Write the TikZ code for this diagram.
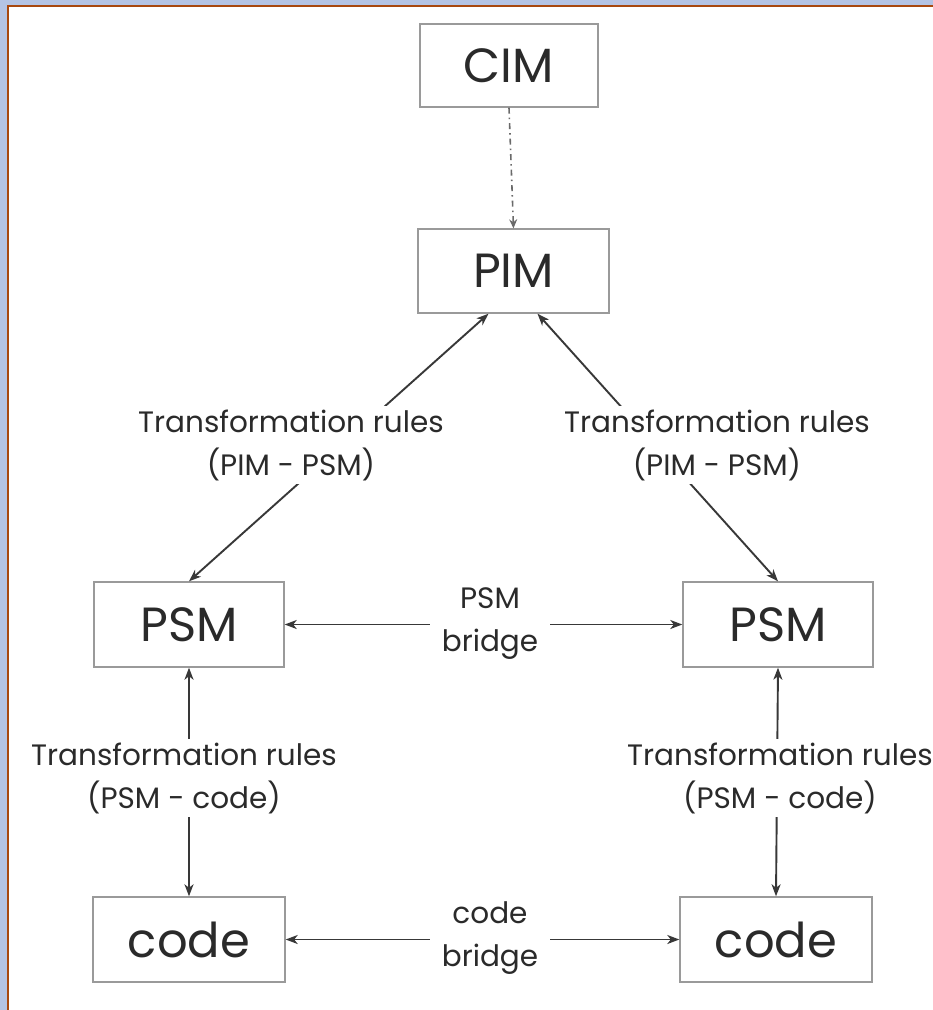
\documentclass[tikz,border=0pt]{standalone}
\usepackage{fontspec}
\setmainfont{Poppins}
\usetikzlibrary{arrows.meta}
\definecolor{bgblue}{HTML}{B4C4E4}
\definecolor{framebrown}{HTML}{A8480E}
\definecolor{boxgray}{HTML}{9A9A9A}
\definecolor{linegray}{HTML}{383838}
\definecolor{txt}{HTML}{2A2A2A}
\begin{document}
\begin{tikzpicture}[x=1pt,y=-1pt,
  box/.style={draw=boxgray,line width=1.4pt,inner sep=0pt,text=txt,
    minimum width=190pt,minimum height=85pt,font=\fontsize{48}{48}\selectfont},
  lbl/.style={fill=white,inner sep=3pt,text=txt,align=center,
    font=\fontsize{29.5}{43}\selectfont},
  bridgelbl/.style={lbl,inner xsep=12pt},
  conn/.style={draw=linegray,line width=1.9pt,
    {Stealth[length=12pt,width=9pt,inset=3.5pt]}-{Stealth[length=12pt,width=9pt,inset=3.5pt]}},
  dconn/.style={draw=linegray!75,line width=1.6pt,dash pattern=on 6pt off 4pt on 1.5pt off 4pt,
    -{Stealth[length=9pt,width=8pt,inset=3pt]}}]
\useasboundingbox (0,0) rectangle (933,1010);
\fill[bgblue] (0,0) rectangle (933,1010);
\fill[white] (7,5) rectangle (934,1011);
\draw[framebrown,line width=2pt] (8,1011) -- (8,6) -- (934,6);

\node[box,minimum width=178pt,minimum height=83pt] (cim) at (509,65.5) {CIM};
\node[box,minimum width=191pt,minimum height=84pt] (pim) at (513.5,271) {PIM};
\node[box] (psmL) at (189,624.5) {PSM};
\node[box] (psmR) at (778,624.5) {PSM};
\node[box,minimum width=192pt] (codeL) at (189,939.5) {code};
\node[box,minimum width=192pt] (codeR) at (776,939.5) {code};

\draw[dconn] (cim.south) -- (pim.north);

\draw[conn] (psmL.north) -- ([xshift=-25pt]pim.south);
\draw[conn] ([xshift=24pt]pim.south) -- (psmR.north);
\draw[conn] (psmL.south) -- (codeL.north);
\draw[conn] (psmR.south) -- (codeR.north);
\draw[conn] (psmL.east) -- (psmR.west);
\draw[conn] (codeL.east) -- (codeR.west);

\node[lbl] (l1) at (291,445) {Transformation rules\\(PIM - PSM)};
\node[lbl] (l2) at (717,445) {Transformation rules\\(PIM - PSM)};
\node[lbl] (l3) at (184,778) {Transformation rules\\(PSM - code)};
\node[lbl] (l4) at (780,778) {Transformation rules\\(PSM - code)};
\node[bridgelbl] (b1) at (490,624) {PSM\\bridge};
\node[bridgelbl] (b2) at (490,938) {code\\bridge};
\end{tikzpicture}
\end{document}
